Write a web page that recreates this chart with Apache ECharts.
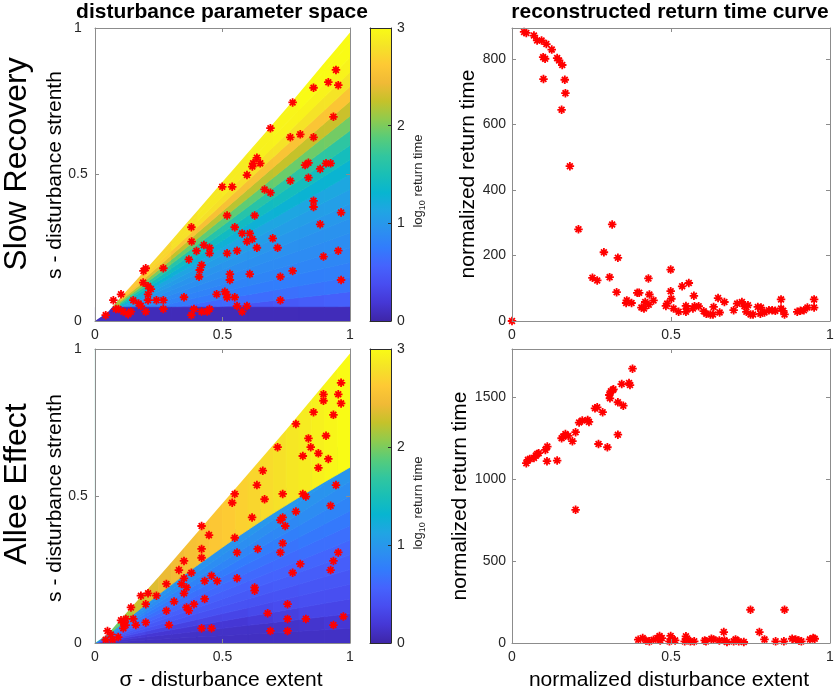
<!DOCTYPE html>
<html><head><meta charset="utf-8">
<script src="https://cdn.jsdelivr.net/npm/echarts@6/dist/echarts.min.js"></script>
<style>html,body{margin:0;padding:0;background:#fff;}#c{width:835px;height:692px;}</style>
</head><body><div id="c"></div>
<script>
// ---------------- data ----------------
// heat-map cells are laid out in (sigma column, ratio s/sigma) space
const heatSigmaEdges = [0,0.1,0.2,0.3,0.4,0.5,0.6,0.7,0.8,0.9,1.0];
const heatRatioEdges = [0,0.05,0.1,0.15,0.2,0.25,0.3,0.35,0.4,0.45,0.5,0.55,0.6,0.65,0.7,0.75,0.8,0.85,0.9,0.95,1.0];
// log10 return time, rows = ratio band, columns = sigma column (Slow Recovery)
const slowGrid = [
 [0.20,0.20,0.20,0.20,0.21,0.23,0.25,0.28,0.30,0.32],
 [0.45,0.32,0.33,0.35,0.37,0.41,0.44,0.48,0.51,0.54],
 [0.72,0.57,0.58,0.59,0.60,0.62,0.64,0.66,0.68,0.70],
 [0.84,0.73,0.73,0.73,0.74,0.75,0.76,0.77,0.78,0.79],
 [0.92,0.81,0.81,0.81,0.81,0.82,0.83,0.83,0.84,0.85],
 [1.00,0.87,0.87,0.86,0.87,0.87,0.88,0.88,0.89,0.90],
 [1.13,0.93,0.92,0.92,0.92,0.92,0.93,0.94,0.94,0.95],
 [1.36,0.99,0.98,0.97,0.97,0.98,0.98,0.99,0.99,1.00],
 [1.66,1.07,1.05,1.04,1.04,1.04,1.05,1.06,1.06,1.07],
 [2.15,1.17,1.13,1.12,1.12,1.12,1.13,1.14,1.14,1.15],
 [2.15,1.35,1.28,1.25,1.25,1.25,1.26,1.28,1.29,1.30],
 [2.15,1.55,1.45,1.41,1.41,1.41,1.42,1.44,1.44,1.46],
 [2.15,1.85,1.67,1.61,1.60,1.60,1.62,1.64,1.65,1.66],
 [2.15,2.20,2.01,1.92,1.90,1.90,1.91,1.94,1.95,1.97],
 [2.15,2.55,2.35,2.24,2.21,2.21,2.22,2.25,2.26,2.27],
 [2.15,2.60,2.66,2.56,2.53,2.53,2.54,2.56,2.57,2.58],
 [2.15,2.60,2.72,2.80,2.80,2.79,2.80,2.81,2.81,2.82],
 [2.15,2.60,2.72,2.80,2.85,2.88,2.92,2.94,2.94,2.94],
 [2.15,2.60,2.72,2.80,2.85,2.88,2.92,2.95,3.00,3.00],
 [2.15,2.60,2.72,2.80,2.85,2.88,2.92,2.95,3.00,3.00]
];
// dark band at the bottom of the Slow Recovery map (s below slowBandTop)
const slowBandTop = 0.047;
const slowBand = [0.10,0.07,0.07,0.07,0.07,0.07,0.07,0.07,0.07,0.07];
// Allee effect: blue (fast) part, same cell layout, rows 0..13
const alleeBlueGrid = [
 [0.11,0.11,0.11,0.11,0.11,0.11,0.11,0.11,0.12,0.12],
 [0.14,0.13,0.13,0.13,0.13,0.13,0.13,0.14,0.16,0.19],
 [0.22,0.19,0.18,0.18,0.19,0.19,0.22,0.26,0.31,0.31],
 [0.40,0.31,0.28,0.28,0.30,0.31,0.34,0.37,0.39,0.39],
 [0.47,0.42,0.41,0.41,0.41,0.42,0.42,0.43,0.45,0.45],
 [0.55,0.48,0.47,0.47,0.48,0.48,0.49,0.50,0.51,0.52],
 [0.62,0.54,0.53,0.53,0.54,0.54,0.55,0.56,0.58,0.58],
 [0.70,0.60,0.59,0.59,0.60,0.60,0.61,0.62,0.65,0.65],
 [0.81,0.67,0.66,0.66,0.66,0.67,0.68,0.69,0.72,0.73],
 [0.90,0.75,0.73,0.73,0.74,0.75,0.76,0.78,0.81,0.82],
 [0.98,0.83,0.81,0.81,0.82,0.83,0.84,0.86,0.89,0.90],
 [1.00,0.91,0.89,0.89,0.90,0.91,0.92,0.94,0.96,0.97],
 [1.00,0.97,0.95,0.95,0.96,0.97,0.99,1.00,1.00,1.00],
 [1.00,1.00,1.00,1.00,1.00,1.00,1.00,1.00,1.00,1.00]
];
// sigma positions for the boundary lines and the slow (yellow) Allee strips
const lineSigma = [0,0.05,0.1,0.15,0.2,0.25,0.3,0.35,0.4,0.45,0.5,0.55,0.6,0.65,0.7,0.75,0.8,0.85,0.9,0.95,1.0];
const edgeS = [0,0.03,0.08,0.128,0.177,0.225,0.275,0.325,0.375,0.425,0.475,0.525,0.575,0.625,0.675,0.725,0.777,0.829,0.881,0.933,0.985];
const alleeBoundaryS = [0,0.027,0.062,0.097,0.132,0.166,0.199,0.232,0.264,0.295,0.326,0.356,0.385,0.414,0.442,0.469,0.496,0.522,0.548,0.573,0.598];
const alleeYellow = [1.6,1.95,2.15,2.28,2.36,2.42,2.47,2.52,2.56,2.6,2.64,2.68,2.72,2.76,2.8,2.84,2.88,2.92,2.96,3.0];

// sampled disturbances [sigma, s]
const slowPoints = [[0.945,0.857],[0.915,0.815],[0.954,0.805],[0.857,0.796],[0.775,0.746],[0.935,0.697],[0.688,0.658],[0.766,0.627],[0.805,0.637],[0.857,0.627],[0.635,0.557],[0.620,0.538],[0.648,0.538],[0.617,0.527],[0.596,0.498],[0.824,0.532],[0.837,0.540],[0.883,0.519],[0.906,0.538],[0.924,0.538],[0.766,0.479],[0.837,0.489],[0.499,0.458],[0.538,0.458],[0.665,0.449],[0.688,0.438],[0.857,0.410],[0.857,0.389],[0.965,0.370],[0.518,0.360],[0.626,0.360],[0.883,0.330],[0.378,0.320],[0.548,0.320],[0.577,0.299],[0.607,0.299],[0.596,0.271],[0.617,0.280],[0.697,0.282],[0.379,0.271],[0.427,0.259],[0.449,0.250],[0.398,0.239],[0.449,0.231],[0.557,0.240],[0.635,0.250],[0.716,0.250],[0.518,0.231],[0.368,0.210],[0.418,0.191],[0.411,0.174],[0.408,0.151],[0.954,0.240],[0.896,0.220],[0.199,0.180],[0.190,0.171],[0.268,0.180],[0.529,0.160],[0.529,0.140],[0.607,0.160],[0.775,0.171],[0.727,0.151],[0.965,0.140],[0.189,0.131],[0.208,0.119],[0.219,0.109],[0.208,0.091],[0.102,0.091],[0.072,0.071],[0.150,0.071],[0.171,0.060],[0.180,0.051],[0.208,0.071],[0.241,0.071],[0.268,0.071],[0.268,0.041],[0.349,0.081],[0.477,0.091],[0.509,0.100],[0.516,0.091],[0.518,0.080],[0.548,0.081],[0.557,0.051],[0.596,0.051],[0.577,0.032],[0.727,0.071],[0.082,0.041],[0.092,0.041],[0.111,0.032],[0.141,0.032],[0.130,0.023],[0.199,0.032],[0.042,0.020],[0.378,0.020],[0.388,0.041],[0.418,0.032],[0.440,0.032],[0.449,0.041]];
const alleePoints = [[0.965,0.885],[0.896,0.846],[0.954,0.846],[0.896,0.824],[0.965,0.815],[0.857,0.785],[0.935,0.776],[0.788,0.745],[0.906,0.705],[0.837,0.696],[0.716,0.666],[0.846,0.666],[0.876,0.645],[0.815,0.636],[0.915,0.626],[0.876,0.596],[0.658,0.586],[0.945,0.537],[0.548,0.507],[0.635,0.537],[0.538,0.477],[0.665,0.489],[0.736,0.507],[0.815,0.507],[0.827,0.498],[0.924,0.467],[0.788,0.447],[0.616,0.427],[0.727,0.418],[0.736,0.427],[0.746,0.398],[0.418,0.398],[0.447,0.367],[0.548,0.358],[0.736,0.339],[0.638,0.320],[0.557,0.308],[0.727,0.308],[0.954,0.308],[0.418,0.320],[0.418,0.290],[0.349,0.279],[0.935,0.279],[0.805,0.269],[0.329,0.248],[0.924,0.248],[0.775,0.239],[0.349,0.220],[0.378,0.239],[0.280,0.201],[0.339,0.201],[0.359,0.189],[0.349,0.169],[0.457,0.229],[0.430,0.211],[0.479,0.211],[0.557,0.220],[0.626,0.189],[0.626,0.178],[0.208,0.169],[0.180,0.161],[0.241,0.161],[0.199,0.132],[0.141,0.121],[0.310,0.141],[0.430,0.150],[0.359,0.121],[0.368,0.110],[0.388,0.132],[0.280,0.110],[0.755,0.132],[0.677,0.101],[0.755,0.082],[0.827,0.082],[0.974,0.090],[0.935,0.061],[0.688,0.041],[0.755,0.041],[0.418,0.050],[0.457,0.050],[0.290,0.061],[0.199,0.070],[0.150,0.082],[0.121,0.082],[0.111,0.070],[0.102,0.077],[0.160,0.061],[0.111,0.050],[0.049,0.041],[0.062,0.029],[0.091,0.020],[0.042,0.011],[0.069,0.011],[0.120,0.061]];

// reconstructed return time curves [normalized extent, normalized return time]
const slowCurve = [[0,0],[0.038,883],[0.045,880],[0.069,872],[0.079,857],[0.093,857],[0.108,846],[0.125,829],[0.098,806],[0.104,801],[0.142,803],[0.148,796],[0.158,782],[0.099,739],[0.166,737],[0.168,696],[0.156,645],[0.182,473],[0.209,280],[0.315,295],[0.289,210],[0.333,193],[0.253,132],[0.268,124],[0.307,134],[0.329,88],[0.361,63],[0.359,55],[0.376,55],[0.394,86],[0.400,86],[0.407,41],[0.419,58],[0.415,38],[0.429,130],[0.432,81],[0.430,50],[0.445,63],[0.484,46],[0.488,53],[0.499,157],[0.499,91],[0.501,68],[0.508,38],[0.524,28],[0.535,106],[0.547,46],[0.547,28],[0.550,38],[0.556,116],[0.569,38],[0.572,77],[0.574,45],[0.587,45],[0.603,30],[0.611,22],[0.624,20],[0.632,20],[0.634,43],[0.648,70],[0.653,26],[0.668,58],[0.697,33],[0.708,53],[0.723,58],[0.731,45],[0.737,28],[0.742,48],[0.750,20],[0.758,20],[0.773,43],[0.783,41],[0.781,22],[0.794,26],[0.808,33],[0.818,33],[0.828,31],[0.846,66],[0.846,38],[0.853,31],[0.857,20],[0.897,28],[0.907,31],[0.918,33],[0.929,41],[0.950,66],[0.950,41]];
const alleeCurve = [[0.045,1098],[0.050,1118],[0.056,1124],[0.069,1130],[0.075,1144],[0.079,1154],[0.084,1159],[0.105,1179],[0.111,1199],[0.110,1110],[0.142,1114],[0.156,1250],[0.161,1260],[0.168,1276],[0.177,1264],[0.190,1232],[0.200,1287],[0.200,813],[0.211,1346],[0.221,1358],[0.238,1362],[0.242,1350],[0.261,1433],[0.268,1439],[0.272,1215],[0.285,1409],[0.300,1195],[0.306,1514],[0.308,1494],[0.311,1537],[0.317,1545],[0.319,1549],[0.333,1470],[0.333,1272],[0.345,1581],[0.350,1449],[0.368,1587],[0.371,1575],[0.379,1675],[0.397,20],[0.411,30],[0.421,16],[0.432,10],[0.445,20],[0.457,30],[0.464,43],[0.466,16],[0.471,30],[0.495,10],[0.499,43],[0.504,22],[0.513,16],[0.543,10],[0.547,41],[0.550,26],[0.561,10],[0.573,10],[0.606,16],[0.610,10],[0.627,26],[0.634,22],[0.652,16],[0.666,67],[0.668,16],[0.676,6],[0.697,10],[0.703,22],[0.713,10],[0.729,6],[0.750,203],[0.778,67],[0.794,22],[0.829,10],[0.857,203],[0.855,10],[0.881,26],[0.892,22],[0.902,16],[0.910,10],[0.937,22],[0.947,30],[0.952,26]];

// axis settings
const unitTicks = {min:0, max:1, interval:0.5};
const slowCurveY = {min:0, max:895, interval:200};
const alleeCurveY = {min:0, max:1795, interval:500};
const colorbarTicks = {min:0, max:3, interval:1};

// ---------------- styling ----------------
const PARULA = ['#3e26a8','#4537d5','#484df0','#4563fd','#327cfc','#2b91ef','#20a5e3','#08b5d0','#19bfb6','#31c69f','#57cc7a','#8fcb4e','#c5c22a','#f0ba36','#fec934','#f5e327','#f9fb15'];
const FONT = '"Liberation Sans", Arial, Helvetica, sans-serif';
const AX = '#8c8c8c', TXT = '#262626', CB = '#2b2b2b';
const STAR = 'path://M5,0L5,10M0,5L10,5M1.6,1.6L8.4,8.4M1.6,8.4L8.4,1.6';

const grids = [
  {left:95, top:28, width:255, height:293},
  {left:95, top:349, width:255, height:294},
  {left:512, top:28, width:318, height:293},
  {left:512, top:349, width:318, height:294},
  {left:370, top:28, width:21, height:293},
  {left:370, top:349, width:21, height:294}
];

function plainNum(v) { return String(v); }

function axis(gi, pos, range, showLabel, labelOpt, color) {
  const c = color || AX;
  return Object.assign({
    gridIndex: gi, type: 'value', position: pos, z: 10,
    axisLine: {show: true, onZero: false, lineStyle: {color: c, width: 1}},
    axisTick: {show: true, inside: true, length: 4, lineStyle: {color: c}},
    axisLabel: Object.assign({show: showLabel, fontSize: 14, color: TXT, fontFamily: FONT, showMaxLabel: true, formatter: plainNum}, labelOpt || {}),
    splitLine: {show: false}
  }, range);
}

const xAxes = [], yAxes = [];
for (let g = 0; g < 2; g++) {
  xAxes.push(axis(g, 'bottom', unitTicks, true, {margin: 7}));
  xAxes.push(axis(g, 'top', unitTicks, false));
  yAxes.push(axis(g, 'left', unitTicks, true, {margin: 17, align: 'center'}));
  yAxes.push(axis(g, 'right', unitTicks, false));
}
xAxes.push(axis(2, 'bottom', unitTicks, true, {margin: 7}));
xAxes.push(axis(2, 'top', unitTicks, false));
yAxes.push(axis(2, 'left', slowCurveY, true, {margin: 6, showMaxLabel: false}));
yAxes.push(axis(2, 'right', slowCurveY, false));
xAxes.push(axis(3, 'bottom', unitTicks, true, {margin: 7}));
xAxes.push(axis(3, 'top', unitTicks, false));
yAxes.push(axis(3, 'left', alleeCurveY, true, {margin: 6, showMaxLabel: false}));
yAxes.push(axis(3, 'right', alleeCurveY, false));
for (let g = 4; g < 6; g++) {
  const xb = axis(g, 'bottom', {min:0, max:1}, false, null, CB); xb.axisTick = {show:false};
  const xt = axis(g, 'top', {min:0, max:1}, false, null, CB); xt.axisTick = {show:false};
  xAxes.push(xb, xt);
  const yr = axis(g, 'right', colorbarTicks, true, {margin: 6}, CB); yr.axisTick.length = 3;
  const yl = axis(g, 'left', colorbarTicks, false, null, CB); yl.axisTick = {show:false};
  yAxes.push(yr, yl);
}

function cellRender(params, api) {
  const j = api.value(0), k = api.value(1);
  const sL = heatSigmaEdges[j], sR = heatSigmaEdges[j + 1];
  const q0 = heatRatioEdges[k], q1 = heatRatioEdges[k + 1];
  const pts = [api.coord([sL, q0 * sL]), api.coord([sR, q0 * sR]), api.coord([sR, q1 * sR]), api.coord([sL, q1 * sL])];
  const c = api.visual('color');
  return {type: 'polygon', shape: {points: pts}, style: {fill: c, stroke: c, lineWidth: 0.8}};
}
function bandRender(params, api) {
  const j = api.value(0);
  const a = api.coord([heatSigmaEdges[j], slowBandTop]);
  const b = api.coord([heatSigmaEdges[j + 1], 0]);
  const c = api.visual('color');
  return {type: 'rect', shape: {x: a[0], y: a[1], width: b[0] - a[0], height: b[1] - a[1]}, style: {fill: c, stroke: c, lineWidth: 0.6}};
}
function yellowRender(params, api) {
  const j = api.value(0);
  const pts = [api.coord([lineSigma[j], alleeBoundaryS[j]]), api.coord([lineSigma[j + 1], alleeBoundaryS[j + 1]]),
               api.coord([lineSigma[j + 1], 1]), api.coord([lineSigma[j], 1])];
  const c = api.visual('color');
  return {type: 'polygon', shape: {points: pts}, style: {fill: c, stroke: c, lineWidth: 0.8}};
}
function coverRender(params, api) {
  const pts = [];
  for (let i = 0; i < lineSigma.length; i++) pts.push(api.coord([lineSigma[i], edgeS[i]]));
  pts.push(api.coord([1, 1.003]));
  pts.push(api.coord([-0.003, 1.003]));
  pts.push(api.coord([-0.003, 0]));
  return {type: 'polygon', shape: {points: pts}, style: {fill: '#ffffff'}};
}
function colorbarRender(params, api) {
  const a = api.coord([0, 3]), b = api.coord([1, 0]);
  return {type: 'rect', shape: {x: a[0], y: a[1], width: b[0] - a[0], height: b[1] - a[1]},
    style: {fill: {type: 'linear', x: 0, y: 1, x2: 0, y2: 0,
      colorStops: PARULA.map((c, i) => ({offset: i / (PARULA.length - 1), color: c}))}}};
}

const slowCells = [], alleeCells = [], bandCells = [], yellowCells = [];
slowGrid.forEach((row, k) => row.forEach((v, j) => slowCells.push([j, k, v])));
alleeBlueGrid.forEach((row, k) => row.forEach((v, j) => alleeCells.push([j, k, v])));
slowBand.forEach((v, j) => bandCells.push([j, 0, v]));
alleeYellow.forEach((v, j) => yellowCells.push([j, 0, v]));

function starSeries(xi, yi, data) {
  return {type: 'scatter', xAxisIndex: xi, yAxisIndex: yi, data: data, symbol: STAR, symbolSize: 8.5,
    clip: false, silent: true, z: 5,
    itemStyle: {color: '#ff0000', borderColor: '#ff0000', borderWidth: 1.8, opacity: 1}};
}

const series = [
  {type: 'custom', xAxisIndex: 0, yAxisIndex: 0, data: slowCells, renderItem: cellRender, silent: true, z: 1},
  {type: 'custom', xAxisIndex: 0, yAxisIndex: 0, data: bandCells, renderItem: bandRender, silent: true, z: 1},
  {type: 'custom', xAxisIndex: 2, yAxisIndex: 2, data: alleeCells, renderItem: cellRender, silent: true, z: 1},
  {type: 'custom', xAxisIndex: 2, yAxisIndex: 2, data: yellowCells, renderItem: yellowRender, silent: true, z: 1},
  {type: 'custom', xAxisIndex: 0, yAxisIndex: 0, data: [[0, 0]], renderItem: coverRender, silent: true, z: 3},
  {type: 'custom', xAxisIndex: 2, yAxisIndex: 2, data: [[0, 0]], renderItem: coverRender, silent: true, z: 3},
  starSeries(0, 0, slowPoints),
  starSeries(2, 2, alleePoints),
  starSeries(4, 4, slowCurve),
  starSeries(6, 6, alleeCurve),
  {type: 'custom', xAxisIndex: 8, yAxisIndex: 8, data: [[0, 0]], renderItem: colorbarRender, silent: true, z: 1},
  {type: 'custom', xAxisIndex: 10, yAxisIndex: 10, data: [[0, 0]], renderItem: colorbarRender, silent: true, z: 1}
];

function label(text, x, y, size, opts) {
  return Object.assign({type: 'text', x: x, y: y, silent: true, z: 20,
    style: {text: text, fontSize: size, fontFamily: FONT, fontWeight: (opts && opts.bold) ? 'bold' : 'normal',
      fill: '#000', align: 'center', verticalAlign: 'middle', textAlign: 'center', textVerticalAlign: 'middle'}},
    (opts && opts.rot) ? {rotation: Math.PI / 2} : {});
}
function cbLabel(x, y) {
  return {type: 'text', x: x, y: y, rotation: Math.PI / 2, silent: true, z: 20,
    style: {text: '{a|log}{b|10}{a| return time}', fill: TXT, align: 'center', verticalAlign: 'middle',
      textAlign: 'center', textVerticalAlign: 'middle',
      rich: {a: {fontSize: 13, fontFamily: FONT, fill: TXT, color: TXT, lineHeight: 18},
             b: {fontSize: 9, fontFamily: FONT, fill: TXT, color: TXT, lineHeight: 9, verticalAlign: 'bottom'}}}};
}

const graphic = [
  label('disturbance parameter space', 222, 12.5, 21, {bold: true}),
  label('reconstructed return time curve', 670, 12.5, 21, {bold: true}),
  label('Slow Recovery', 17, 164, 32, {rot: true}),
  label('Allee Effect', 17, 484, 32, {rot: true}),
  label('s - disturbance strenth', 55, 175, 21, {rot: true}),
  label('s - disturbance strenth', 55, 498, 21, {rot: true}),
  label('\u03c3 - disturbance extent', 221, 680, 21),
  label('normalized disturbance extent', 669, 680, 21),
  label('normalized return time', 468, 174, 21, {rot: true}),
  label('normalized return time', 460, 496, 21, {rot: true}),
  cbLabel(418, 181),
  cbLabel(418, 503)
];

const chart = echarts.init(document.getElementById('c'), null, {renderer: 'canvas'});
chart.setOption({
  animation: false,
  backgroundColor: '#ffffff',
  textStyle: {fontFamily: FONT},
  grid: grids.map(g => Object.assign({containLabel: false, outerBoundsMode: 'none'}, g)),
  xAxis: xAxes,
  yAxis: yAxes,
  visualMap: [{type: 'continuous', show: false, min: 0, max: 3, dimension: 2, seriesIndex: [0, 1, 2, 3], inRange: {color: PARULA}}],
  series: series,
  graphic: graphic
});
</script></body></html>
